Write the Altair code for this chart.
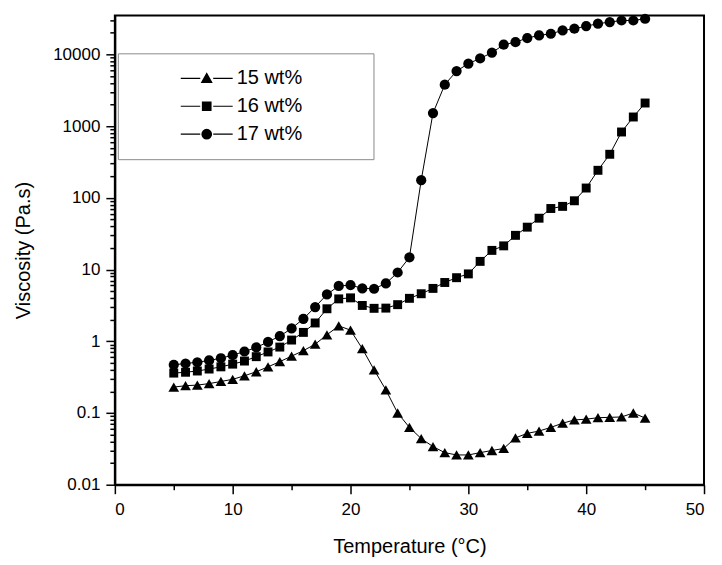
import json
import math
import altair as alt
import pandas as pd

# ---------------- data ----------------
temps = list(range(5, 46))
v15 = [0.23, 0.24, 0.245, 0.257, 0.275, 0.295, 0.33, 0.376, 0.44, 0.52, 0.62,
       0.74, 0.91, 1.23, 1.64, 1.43, 0.79, 0.40, 0.21, 0.10, 0.063, 0.044,
       0.034, 0.028, 0.026, 0.026, 0.028, 0.030, 0.032, 0.045, 0.052, 0.056,
       0.063, 0.072, 0.080, 0.082, 0.086, 0.087, 0.088, 0.10, 0.085]
v16 = [0.36, 0.37, 0.385, 0.41, 0.44, 0.48, 0.53, 0.61, 0.71, 0.83, 1.04,
       1.33, 1.8, 2.84, 3.9, 4.03, 3.16, 2.88, 2.9, 3.24, 3.97, 4.6, 5.46,
       6.6, 7.7, 8.7, 13, 18.5, 21.4, 30, 39, 52, 71, 76, 91, 137, 242, 405,
       828, 1340, 2100]
v17 = [0.47, 0.49, 0.51, 0.54, 0.58, 0.64, 0.72, 0.82, 0.98, 1.18, 1.51,
       2.06, 3.0, 4.5, 5.9, 6.07, 5.46, 5.4, 6.4, 9.1, 14.8, 176, 1520, 3780,
       5860, 7420, 8800, 10560, 13650, 14800, 16900, 18400, 19400, 21600,
       22800, 24800, 26800, 28200, 29700, 29700, 31400]
series_names = ["15 wt%", "16 wt%", "17 wt%"]
series_shapes = ["triangle-up", "square", "circle"]
series_sizes = [115, 80, 105]

x_major = [0, 10, 20, 30, 40, 50]
x_ticks = [0, 5, 10, 15, 20, 25, 30, 35, 40, 45, 50]
y_major = [0.01, 0.1, 1, 10, 100, 1000, 10000]
y_ticks = [float(f"{m}e{e}") for e in range(-2, 5) for m in range(1, 10)
           if float(f"{m}e{e}") <= 35000]

rows = []
for name, vals in zip(series_names, [v15, v16, v17]):
    for t, v in zip(temps, vals):
        rows.append({"T": t, "V": v, "series": name})
df = pd.DataFrame(rows)

FONT = "Liberation Sans"

xmaj = json.dumps(x_major)
ymaj = json.dumps(y_major)

x_enc = alt.X(
    "T:Q",
    scale=alt.Scale(domain=[0, 50], nice=False, zero=False),
    axis=alt.Axis(
        values=x_ticks,
        format="d",
        labelExpr=f"indexof({xmaj}, datum.value) >= 0 ? datum.label : ''",
        tickSize={"condition": {"test": f"indexof({xmaj}, datum.value) >= 0", "value": 9}, "value": 5},
        title="Temperature (°C)",
        titlePadding=19,
        labelPadding=8,
    ),
)
y_enc = alt.Y(
    "V:Q",
    scale=alt.Scale(type="log", domain=[0.01, 35000], nice=False),
    axis=alt.Axis(
        values=y_ticks,
        labelExpr=f"indexof({ymaj}, datum.value) >= 0 ? format(datum.value, '~g') : ''",
        tickSize={"condition": {"test": f"indexof({ymaj}, datum.value) >= 0", "value": 9}, "value": 5},
        title="Viscosity (Pa.s)",
        titlePadding=19,
        labelPadding=6,
    ),
)

lines = alt.Chart(df).mark_line(color="black", strokeWidth=1).encode(
    x=x_enc, y=y_enc, detail="series:N"
)

point_layers = []
for name, shp, sz in zip(series_names, series_shapes, series_sizes):
    point_layers.append(
        alt.Chart(df)
        .transform_filter(alt.datum.series == name)
        .mark_point(filled=True, color="black", opacity=1, shape=shp, size=sz)
        .encode(x=x_enc, y=y_enc)
    )

# ----- legend symbols: "—▲—" style paths (units: 1 = 5 px) -----
seg = "M-5.2,0H-1.3M1.3,0H5.2"
hatch_ys = [-0.8, -0.6, -0.4, -0.2, 0.0, 0.2, 0.4, 0.6, 0.8]


def hatch(halfwidth):
    out = ""
    for yy in hatch_ys:
        w = halfwidth(yy)
        if w > 0:
            out += f"M{-w:.3f},{yy:.2f}H{w:.3f}"
    return out


tri = "M-1,0.8L1,0.8L0,-0.95Z" + hatch(lambda yy: (yy + 0.95) / 1.75 if yy <= 0.8 else 0)
sq = "M-0.85,-0.85H0.85V0.85H-0.85Z" + hatch(lambda yy: 0.85)
circ = ("M-0.95,0A0.95,0.95 0 1,0 0.95,0A0.95,0.95 0 1,0 -0.95,0Z"
        + hatch(lambda yy: math.sqrt(max(0.95 ** 2 - yy ** 2, 0))))
legend_paths = [seg + tri, seg + sq, seg + circ]

pad_spaces = "\u00a0" * 10 + "\u200b"

legend_layer = alt.Chart(df).transform_filter("false").mark_point(
    filled=True, fill="black", stroke="black", strokeWidth=1.2, opacity=1
).encode(
    x=x_enc,
    y=y_enc,
    shape=alt.Shape(
        "series:N",
        scale=alt.Scale(domain=series_names, range=legend_paths),
        legend=alt.Legend(
            title=None,
            orient="none",
            legendX=3,
            legendY=38,
            strokeColor="#8a8a8a",
            fillColor="white",
            padding=15,
            symbolSize=100,
            symbolStrokeWidth=1.2,
            symbolOpacity=1,
            symbolOffset=64,
            labelOffset=20,
            labelFont=FONT,
            labelFontSize=20,
            labelColor="black",
            rowPadding=8,
            labelExpr=f"datum.label + '{pad_spaces}'",
        ),
    ),
)

chart = (
    alt.layer(lines, *point_layers, legend_layer)
    .properties(
        width=590,
        height=470,
        autosize=alt.AutoSizeParams(type="none"),
        padding={"left": 107, "top": 7, "right": 10, "bottom": 72},
        background="white",
    )
    .configure_view(stroke="black", strokeWidth=2)
    .configure_axis(
        grid=False,
        domainColor="black",
        domainWidth=2,
        tickColor="black",
        tickWidth=1.5,
        labelFont=FONT,
        labelFontSize=17,
        labelColor="black",
        titleFont=FONT,
        titleFontSize=20,
        titleFontWeight="normal",
        titleColor="black",
    )
)

chart.save("out.html", embed_options={"renderer": "svg", "actions": False})
